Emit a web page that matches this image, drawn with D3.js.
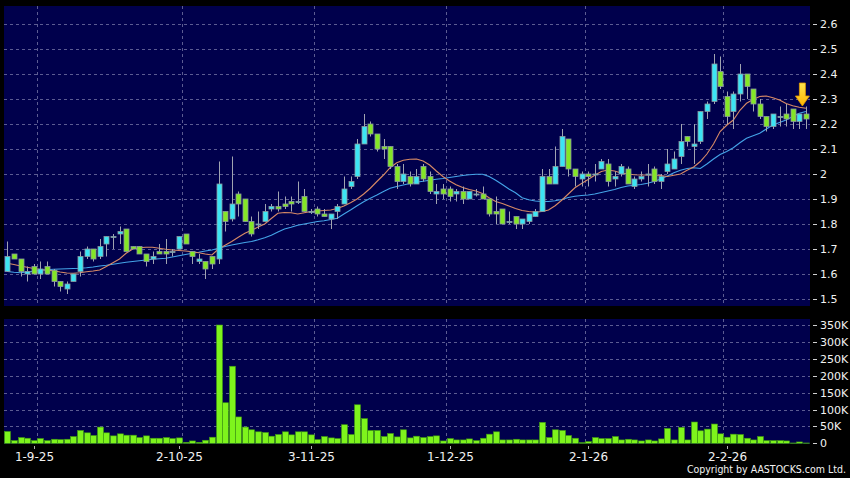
<!DOCTYPE html>
<html>
<head>
<meta charset="utf-8">
<script src="https://cdn.jsdelivr.net/npm/d3@7"></script>
<style>
  html, body { margin: 0; padding: 0; background: #000; }
  svg { display: block; }
</style>
</head>
<body>
<svg id="chart" width="850" height="478"></svg>
<script>
// ---- DATA ----
const opens = [1.61,1.68,1.66,1.60,1.63,1.60,1.63,1.615,1.57,1.54,1.57,1.61,1.67,1.70,1.67,1.72,1.75,1.76,1.78,1.71,
  1.71,1.68,1.66,1.69,1.69,1.69,1.70,1.76,1.69,1.65,1.65,1.67,1.66,1.85,1.82,1.92,1.90,1.81,1.80,1.81,
  1.86,1.87,1.88,1.89,1.89,1.91,1.85,1.86,1.84,1.82,1.85,1.88,1.95,1.99,2.12,2.20,2.16,2.11,2.11,2.03,
  1.97,1.99,1.96,2.03,1.99,1.92,1.94,1.94,1.92,1.93,1.90,1.92,1.92,1.90,1.85,1.86,1.81,1.83,1.80,1.81,
  1.83,1.85,1.99,1.96,2.03,2.14,2.02,1.98,2.00,2.00,2.02,2.04,1.98,2.00,2.02,1.95,1.98,2.00,2.02,1.97,
  2.01,2.02,2.07,2.15,2.11,2.13,2.25,2.29,2.41,2.31,2.25,2.32,2.40,2.34,2.28,2.23,2.19,2.23,2.24,2.26,
  2.21,2.24];
const highs = [1.73,1.68,1.66,1.63,1.64,1.65,1.65,1.62,1.57,1.57,1.60,1.69,1.71,1.70,1.74,1.75,1.76,1.79,1.78,1.71,
  1.71,1.68,1.69,1.72,1.74,1.70,1.75,1.76,1.69,1.68,1.65,1.67,2.05,1.85,2.07,1.93,1.90,1.83,1.85,1.88,
  1.88,1.93,1.91,1.91,1.97,1.94,1.86,1.87,1.86,1.84,1.88,1.99,1.99,2.14,2.24,2.21,2.16,2.14,2.11,2.04,
  2.04,2.01,2.02,2.04,2.01,1.96,1.96,1.95,1.94,1.95,1.93,1.94,1.95,1.90,1.91,1.86,1.85,1.83,1.82,1.84,
  1.86,2.02,2.02,2.11,2.18,2.14,2.02,2.01,2.01,2.04,2.06,2.06,2.01,2.04,2.03,1.99,2.01,2.04,2.03,2.00,
  2.10,2.09,2.20,2.15,2.20,2.25,2.29,2.48,2.47,2.33,2.33,2.44,2.40,2.34,2.30,2.23,2.24,2.27,2.28,2.26,
  2.24,2.27];
const lows = [1.61,1.66,1.59,1.57,1.60,1.58,1.60,1.55,1.53,1.52,1.57,1.59,1.66,1.65,1.66,1.67,1.70,1.72,1.69,1.70,
  1.68,1.63,1.64,1.68,1.64,1.67,1.70,1.72,1.64,1.64,1.58,1.62,1.64,1.77,1.81,1.83,1.81,1.75,1.78,1.81,
  1.85,1.85,1.86,1.85,1.88,1.85,1.84,1.83,1.83,1.78,1.82,1.88,1.94,1.98,2.12,2.15,2.09,2.06,2.02,1.94,
  1.96,1.95,1.96,1.97,1.92,1.88,1.90,1.89,1.89,1.88,1.90,1.91,1.90,1.83,1.80,1.80,1.80,1.78,1.78,1.80,
  1.83,1.85,1.96,1.96,2.03,1.99,1.95,1.95,1.95,1.97,2.02,1.95,1.95,1.99,1.96,1.94,1.97,1.95,1.96,1.94,
  2.00,2.02,2.04,2.11,2.04,2.12,2.22,2.28,2.34,2.20,2.18,2.29,2.30,2.25,2.22,2.17,2.18,2.19,2.19,2.18,
  2.18,2.18];
const closes = [1.67,1.66,1.61,1.61,1.60,1.62,1.60,1.57,1.55,1.56,1.60,1.67,1.70,1.66,1.71,1.75,1.75,1.77,1.69,1.70,
  1.68,1.65,1.67,1.68,1.68,1.69,1.75,1.72,1.67,1.66,1.62,1.64,1.96,1.81,1.88,1.88,1.81,1.76,1.80,1.85,
  1.87,1.86,1.87,1.88,1.89,1.85,1.85,1.84,1.83,1.84,1.87,1.94,1.97,2.12,2.19,2.16,2.10,2.10,2.03,1.97,
  2.00,1.96,1.99,1.98,1.93,1.93,1.92,1.91,1.93,1.90,1.93,1.92,1.90,1.84,1.84,1.80,1.81,1.80,1.82,1.84,
  1.85,1.99,1.96,2.03,2.15,2.02,1.99,2.00,1.99,2.00,2.05,1.97,1.99,2.03,1.96,1.98,1.99,2.00,1.97,1.99,
  2.04,2.06,2.13,2.13,2.12,2.25,2.28,2.44,2.35,2.23,2.32,2.40,2.35,2.28,2.23,2.19,2.24,2.23,2.22,2.21,
  2.24,2.22];
// volume in thousands of shares
const volumes = [35,8,17,15,8,14,8,12,11,12,20,38,31,23,48,31,22,28,24,24,
  17,22,15,15,17,14,16,3,7,3,9,18,350,120,228,78,48,40,34,32,
  21,26,34,25,34,34,25,11,20,16,14,55,26,114,73,38,38,20,29,19,
  40,16,21,17,20,22,7,14,10,10,13,8,15,27,34,10,10,12,10,10,
  10,62,17,40,38,23,15,2,5,17,14,14,20,10,12,10,7,10,7,13,
  44,10,47,10,63,37,42,57,28,18,27,26,15,10,20,8,8,8,7,1,
  4,1];
// short moving average (orange) and long moving average (blue)
const maShort = [1.643,1.638,1.632,1.627,1.622,1.618,1.615,1.613,1.608,1.604,1.603,1.605,1.609,1.612,1.616,1.630,1.645,1.660,1.683,1.700,
  1.705,1.707,1.707,1.703,1.699,1.696,1.694,1.692,1.689,1.685,1.680,1.676,1.700,1.715,1.730,1.747,1.763,1.775,1.788,1.800,
  1.822,1.843,1.846,1.845,1.840,1.845,1.850,1.852,1.854,1.856,1.862,1.872,1.885,1.900,1.920,1.943,1.970,1.996,2.025,2.045,
  2.055,2.059,2.060,2.052,2.036,2.012,1.990,1.972,1.957,1.946,1.938,1.932,1.922,1.905,1.890,1.882,1.872,1.862,1.854,1.850,
  1.847,1.850,1.856,1.873,1.895,1.920,1.945,1.962,1.978,1.995,2.010,2.016,2.012,2.004,2.000,1.997,1.996,1.996,1.996,1.994,
  1.990,1.995,2.000,2.015,2.028,2.050,2.080,2.120,2.170,2.195,2.216,2.255,2.283,2.298,2.310,2.312,2.305,2.296,2.282,2.273,
  2.267,2.263];
const maLong = [1.610,1.607,1.605,1.608,1.611,1.615,1.617,1.619,1.620,1.621,1.622,1.623,1.625,1.628,1.632,1.635,1.639,1.643,1.647,1.650,
  1.653,1.656,1.659,1.661,1.663,1.668,1.673,1.678,1.683,1.687,1.692,1.696,1.703,1.710,1.716,1.721,1.726,1.730,1.737,1.745,
  1.755,1.768,1.780,1.787,1.795,1.800,1.805,1.810,1.813,1.818,1.823,1.840,1.856,1.873,1.889,1.903,1.916,1.930,1.943,1.950,
  1.956,1.962,1.967,1.971,1.975,1.979,1.982,1.986,1.990,1.994,1.997,1.999,1.999,1.990,1.975,1.958,1.940,1.925,1.905,1.897,
  1.892,1.890,1.890,1.893,1.898,1.906,1.911,1.914,1.916,1.920,1.926,1.932,1.938,1.946,1.952,1.955,1.958,1.963,1.970,1.980,
  1.992,2.005,2.015,2.022,2.025,2.022,2.040,2.060,2.078,2.090,2.105,2.125,2.143,2.153,2.163,2.180,2.196,2.206,2.216,2.230,
  2.243,2.250];
const priceTicks = [1.5,1.6,1.7,1.8,1.9,2.0,2.1,2.2,2.3,2.4,2.5,2.6];
const volumeTicks = [0,50,100,150,200,250,300,350];
const dateLabels = ["1-9-25","2-10-25","3-11-25","1-12-25","2-1-26","2-2-26"];
const dateLabelIndex = [4,26,46,67,88,109];     // candle at which each date label sits
const monthStartIndex = [5,27,47,67,88,109];    // first trading day of each month (grid line before it)
const copyright = "Copyright by AASTOCKS.com Ltd.";

// ---- LAYOUT ----
const svg = d3.select("#chart");
const W = 850, H = 478;
const pLeft = 4, pRight = 810;
const priceTop = 6, priceBottom = 306;
const volTop = 319, volBottom = 444;
const n = closes.length;

const x = d3.scaleLinear().domain([0, n - 1]).range([7.3, 805.9]);
const step = x(1) - x(0);
const yP = d3.scaleLinear().domain([1.5, 2.6]).range([299, 24]);
const yV = d3.scaleLinear().domain([0, 350]).range([443.3, 325]);

const navy = "#00004c";
const gridColor = "#5c5c92";
const upColor = "#3ce4f4";
const downColor = "#84e626";
const bodyStroke = "#8a9aa0";
const wickColor = "#a0a4b0";
const textColor = "#f2f2f2";
const font = "'DejaVu Sans', Verdana, sans-serif";

svg.append("rect").attr("width", W).attr("height", H).attr("fill", "#000");

svg.append("rect").attr("x", pLeft).attr("y", priceTop).attr("width", pRight - pLeft).attr("height", priceBottom - priceTop).attr("fill", navy);
svg.append("rect").attr("x", pLeft).attr("y", volTop).attr("width", pRight - pLeft).attr("height", volBottom - volTop).attr("fill", navy);

const grid = svg.append("g").attr("stroke", gridColor).attr("stroke-width", 1).attr("stroke-dasharray", "3,3").attr("shape-rendering", "crispEdges");
// horizontal price grid
grid.selectAll(".hp").data(priceTicks).join("line")
  .attr("x1", pLeft).attr("x2", pRight)
  .attr("y1", d => Math.round(yP(d)) + 0.5).attr("y2", d => Math.round(yP(d)) + 0.5);
// horizontal volume grid
grid.selectAll(".hv").data(volumeTicks.filter(v => v > 0)).join("line")
  .attr("x1", pLeft).attr("x2", pRight)
  .attr("y1", d => Math.round(yV(d)) + 0.5).attr("y2", d => Math.round(yV(d)) + 0.5);
// vertical grid (month boundaries)
monthStartIndex.forEach(i => {
  const gx = Math.round(x(i) - step / 2) + 0.5;
  grid.append("line").attr("x1", gx).attr("x2", gx).attr("y1", priceTop).attr("y2", priceBottom);
  grid.append("line").attr("x1", gx).attr("x2", gx).attr("y1", volTop).attr("y2", volBottom);
});

// ---- moving averages ----
const line = d3.line().x((d, i) => x(i)).y(d => yP(d));
svg.append("path").datum(maLong).attr("d", line).attr("fill", "none").attr("stroke", "#44a4e8").attr("stroke-width", 1.1);
svg.append("path").datum(maShort).attr("d", line).attr("fill", "none").attr("stroke", "#d88a66").attr("stroke-width", 1.1);

// ---- candles ----
const idx = d3.range(n);
const candles = svg.append("g");
candles.selectAll("line.wick").data(idx).join("line")
  .attr("class", "wick")
  .attr("x1", i => Math.round(x(i)) + 0.5).attr("x2", i => Math.round(x(i)) + 0.5)
  .attr("y1", i => yP(highs[i])).attr("y2", i => yP(lows[i]))
  .attr("stroke", wickColor).attr("stroke-width", 1);
candles.selectAll("rect.body").data(idx).join("rect")
  .attr("class", "body")
  .attr("x", i => Math.round(x(i)) - 2)
  .attr("width", 5)
  .attr("y", i => yP(Math.max(opens[i], closes[i])))
  .attr("height", i => Math.max(1, Math.abs(yP(opens[i]) - yP(closes[i]))))
  .attr("fill", i => closes[i] >= opens[i] ? upColor : downColor)
  .attr("stroke", bodyStroke).attr("stroke-width", 0.8);

// ---- volume bars ----
svg.append("g").selectAll("rect").data(idx).join("rect")
  .attr("x", i => Math.round(x(i)) - 2.5)
  .attr("width", 6)
  .attr("y", i => yV(volumes[i]))
  .attr("height", i => yV(0) - yV(volumes[i]))
  .attr("fill", "#7ef41c").attr("stroke", "#3f9a12").attr("stroke-width", 0.6);

// ---- right axes ----
const axisG = svg.append("g").attr("font-family", font).attr("font-size", 11).attr("fill", textColor);
priceTicks.forEach(v => {
  const yy = Math.round(yP(v)) + 0.5;
  axisG.append("line").attr("x1", 813).attr("x2", 817).attr("y1", yy).attr("y2", yy).attr("stroke", "#d0d0d0");
  axisG.append("text").attr("x", 820).attr("y", yy).attr("dy", "0.36em").text(String(+v.toFixed(1)));
});
volumeTicks.forEach(v => {
  const yy = Math.round(yV(v)) + 0.5;
  axisG.append("line").attr("x1", 813).attr("x2", 817).attr("y1", yy).attr("y2", yy).attr("stroke", "#d0d0d0");
  axisG.append("text").attr("x", 820).attr("y", yy).attr("dy", "0.36em").text(v === 0 ? "0" : v + "K");
});

// ---- date axis ----
const dateG = svg.append("g").attr("font-family", font).attr("font-size", 12).attr("fill", textColor).attr("text-anchor", "middle");
dateLabels.forEach((lab, k) => {
  const xx = Math.round(x(dateLabelIndex[k])) + 0.5;
  dateG.append("line").attr("x1", xx).attr("x2", xx).attr("y1", 446).attr("y2", 449).attr("stroke", "#b0b0b0");
  dateG.append("text").attr("x", xx).attr("y", 461).text(lab);
});

svg.append("text").attr("x", 846).attr("y", 473).attr("text-anchor", "end")
  .attr("font-family", "'DejaVu Sans Condensed', 'DejaVu Sans', sans-serif").attr("font-size", 10.5).attr("fill", textColor)
  .text(copyright);

// ---- marker arrow above the latest candle ----
const defs = svg.append("defs");
const grad = defs.append("linearGradient").attr("id", "arrowGrad").attr("x1", 0).attr("x2", 0).attr("y1", 0).attr("y2", 1);
grad.append("stop").attr("offset", "0%").attr("stop-color", "#ffe54f");
grad.append("stop").attr("offset", "100%").attr("stop-color", "#ffb400");
const ax = x(n - 1) - 3.5;   // arrow centre just left of latest candle
const aBot = yP(highs[n - 1]) - 0.5, aTop = aBot - 23;
svg.append("path")
  .attr("d", `M${ax - 3},${aTop} L${ax + 3},${aTop} L${ax + 3},${aBot - 10} L${ax + 7},${aBot - 10} L${ax},${aBot} L${ax - 7},${aBot - 10} L${ax - 3},${aBot - 10} Z`)
  .attr("fill", "url(#arrowGrad)").attr("stroke", "#e39a00").attr("stroke-width", 0.8);
</script>
</body>
</html>
